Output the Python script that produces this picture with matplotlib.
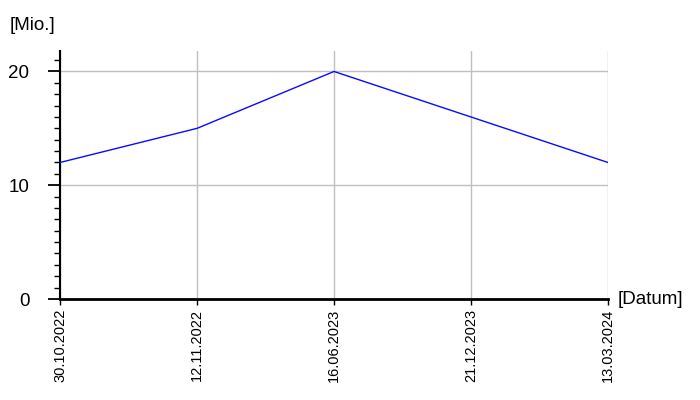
import matplotlib.pyplot as plt
from matplotlib.ticker import MultipleLocator

plt.rcParams['font.family'] = ['Liberation Sans', 'DejaVu Sans']

datum = ["30.10.2022", "12.11.2022", "16.06.2023", "21.12.2023", "13.03.2024"]
werte = [12, 15, 20, 16, 12]

fig = plt.figure(figsize=(7, 4), dpi=100)
ax = fig.add_axes([60/700, 101/400, 548/700, 248/400])

x = list(range(len(datum)))
ax.plot(x, werte, color="#0a0aff", linewidth=1.0, zorder=3)

ax.set_xlim(0, len(datum) - 1)
ax.set_ylim(0, 21.8)
ax.set_xticks(x)
ax.set_xticklabels(datum, rotation=90, fontsize=10.5)
ax.set_yticks([0, 10, 20])
ax.yaxis.set_minor_locator(MultipleLocator(1))
ax.tick_params(axis="y", labelsize=13.5, length=9, width=1.3, pad=13)
ax.tick_params(axis="y", which="minor", length=4, width=1.0)
ax.tick_params(axis="x", length=4, width=1.0, pad=3)

ax.grid(True, color="#c0c0c0", linewidth=1.0)
ax.set_axisbelow(True)
for s in ["top", "right"]:
    ax.spines[s].set_visible(False)
ax.spines["left"].set_linewidth(1.5)
ax.spines["bottom"].set_linewidth(2)

fig.text(10/700, 1 - 26/400, "[Mio.]", fontsize=13.5, va="center", ha="left")
fig.text(618/700, 1 - 299/400, "[Datum]", fontsize=13.5, va="center", ha="left")

fig.savefig("out.png", dpi=100)
